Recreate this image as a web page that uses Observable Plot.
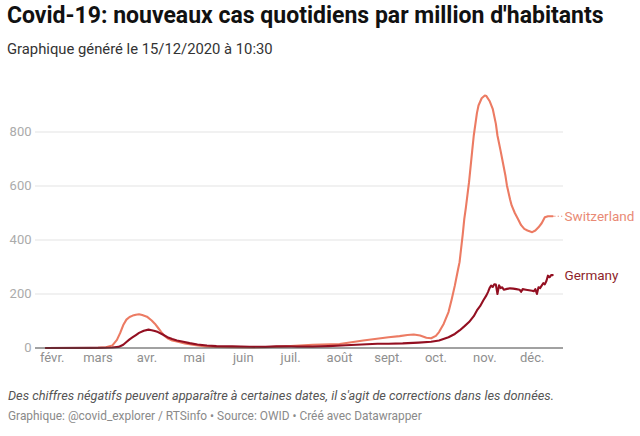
<!DOCTYPE html>
<html><head><meta charset="utf-8">
<script src="https://cdn.jsdelivr.net/npm/d3@7"></script>
<script src="https://cdn.jsdelivr.net/npm/@observablehq/plot@0.6"></script>
<style>
body{margin:0;background:#fff;font-family:Roboto,"Noto Sans",sans-serif;width:640px;height:436px;overflow:hidden;position:relative}
#title{position:absolute;left:7px;top:2px;font-size:23px;font-weight:700;color:#111;white-space:nowrap}
#sub{position:absolute;left:7px;top:40px;font-size:14.8px;color:#333;white-space:nowrap}
#chart{position:absolute;left:0;top:70px}
#note{position:absolute;left:8px;top:388px;font-size:12.75px;font-style:italic;color:#555;white-space:nowrap}
#src{position:absolute;left:8px;top:409px;font-size:11.9px;color:#8a8a8a;white-space:nowrap}
</style></head>
<body>
<div id="title">Covid-19: nouveaux cas quotidiens par million d'habitants</div>
<div id="sub">Graphique généré le 15/12/2020 à 10:30</div>
<div id="chart"></div>
<div id="note">Des chiffres négatifs peuvent apparaître à certaines dates, il s'agit de corrections dans les données.</div>
<div id="src">Graphique: @covid_explorer / RTSinfo • Source: OWID • Créé avec Datawrapper</div>
<script>
const swissDates = ["2020-01-28","2020-02-20","2020-03-01","2020-03-06","2020-03-10","2020-03-13","2020-03-15","2020-03-17","2020-03-19","2020-03-21","2020-03-23","2020-03-25","2020-03-27","2020-03-29","2020-04-01","2020-04-04","2020-04-06","2020-04-08","2020-04-10","2020-04-12","2020-04-14","2020-04-17","2020-04-20","2020-04-25","2020-05-01","2020-05-08","2020-05-15","2020-05-25","2020-06-05","2020-06-15","2020-06-25","2020-07-01","2020-07-15","2020-08-01","2020-08-16","2020-09-01","2020-09-08","2020-09-13","2020-09-17","2020-09-21","2020-09-25","2020-09-28","2020-10-01","2020-10-03","2020-10-06","2020-10-09","2020-10-11","2020-10-13","2020-10-15","2020-10-16","2020-10-18","2020-10-19","2020-10-20","2020-10-22","2020-10-24","2020-10-25","2020-10-27","2020-10-28","2020-10-30","2020-11-01","2020-11-02","2020-11-04","2020-11-06","2020-11-08","2020-11-09","2020-11-11","2020-11-12","2020-11-14","2020-11-15","2020-11-17","2020-11-18","2020-11-20","2020-11-22","2020-11-24","2020-11-26","2020-11-28","2020-12-01","2020-12-03","2020-12-05","2020-12-07","2020-12-09","2020-12-11","2020-12-14"];
const swissValues = [0,0,0.5,3,9,30,55,85,105,115,120,123,125,122,116,102,90,75,60,46,36,28,24,17,11,6,4,2.5,2,2.5,5,7,12,15,28,40,44,48,50,46,38,36,45,59,90,133,180,231,290,318,420,478,520,614,730,787,870,898,925,935,933,915,886,830,787,730,700,640,602,550,528,500,478,455,441,435,429,435,447,462,484,488,488];

const germanyDates = ["2020-01-28","2020-02-25","2020-03-05","2020-03-10","2020-03-14","2020-03-17","2020-03-19","2020-03-21","2020-03-23","2020-03-25","2020-03-27","2020-03-30","2020-04-02","2020-04-04","2020-04-06","2020-04-08","2020-04-11","2020-04-14","2020-04-17","2020-04-20","2020-04-24","2020-04-28","2020-05-03","2020-05-09","2020-05-15","2020-05-25","2020-06-05","2020-06-15","2020-06-22","2020-06-28","2020-07-05","2020-07-15","2020-07-25","2020-08-05","2020-08-15","2020-08-25","2020-09-01","2020-09-10","2020-09-20","2020-09-28","2020-10-03","2020-10-09","2020-10-13","2020-10-16","2020-10-19","2020-10-22","2020-10-25","2020-10-27","2020-10-29","2020-10-31","2020-11-02","2020-11-03","2020-11-04","2020-11-05","2020-11-06","2020-11-07","2020-11-08","2020-11-09","2020-11-10","2020-11-11","2020-11-12","2020-11-13","2020-11-15","2020-11-17","2020-11-19","2020-11-21","2020-11-23","2020-11-24","2020-11-25","2020-11-27","2020-11-29","2020-12-01","2020-12-02","2020-12-03","2020-12-04","2020-12-05","2020-12-06","2020-12-07","2020-12-08","2020-12-09","2020-12-10","2020-12-11","2020-12-12","2020-12-13","2020-12-14"];
const germanyValues = [0,0.3,1,2,4,12,22,32,40,48,56,64,68,66,63,59,50,40,33,28,23,18,13,9,7,6,4.5,4,6,6.5,5,5,7,10,13,16,16,17,20,23,28,40,52,65,80,96,118,139,155,176,195,207,222,231,226,236,235,200,232,222,225,216,219,221,220,218,216,208,218,216,214,212,210,218,200,225,222,231,240,236,248,268,262,270,270];

const yTicks = [0,200,400,600,800];
const monthStarts = ["2020-02-01","2020-03-01","2020-04-01","2020-05-01","2020-06-01","2020-07-01","2020-08-01","2020-09-01","2020-10-01","2020-11-01","2020-12-01"];
const monthLabels = ["févr.","mars","avr.","mai","juin","juil.","août","sept.","oct.","nov.","déc."];
const seriesNames = ["Switzerland","Germany"];
const seriesColors = ["#ec7b63","#930f21"];
const labelColors = ["#e98a75","#8e1f2c"];

const parse = s => new Date(s + "T00:00:00Z");
const swiss = swissDates.map((d,i)=>({date:parse(d), value:swissValues[i], country:seriesNames[0]}));
const germany = germanyDates.map((d,i)=>({date:parse(d), value:germanyValues[i], country:seriesNames[1]}));
const ticks = monthStarts.map(parse);
const labelOf = new Map(ticks.map((t,i)=>[+t, monthLabels[i]]));
const lastS = swiss[swiss.length-1], lastG = germany[germany.length-1];
const xMax = new Date(Date.UTC(2020,11,20,20));

const chart = Plot.plot({
  width:640, height:300,
  marginLeft:35, marginRight:77, marginTop:7.5, marginBottom:22.5,
  style:{fontFamily:"Roboto, sans-serif", fontSize:"13px", background:"transparent", overflow:"visible"},
  x:{type:"utc", domain:[new Date(Date.UTC(2020,0,21,10)), xMax], ticks:ticks, tickFormat:d=>labelOf.get(+d), tickSize:0, tickPadding:6, label:null},
  y:{domain:[0,1000], ticks:yTicks, tickSize:0, tickPadding:4, label:null},
  marks:[
    Plot.gridY(yTicks.filter(v=>v>0), {stroke:"#e3e3e3", strokeOpacity:1, strokeWidth:1}),
    Plot.axisY({ticks:yTicks, tickSize:0, tickPadding:4, fill:"#ababab", fontSize:13, label:null}),
    Plot.axisX({ticks:ticks, tickFormat:d=>labelOf.get(+d), tickSize:0, tickPadding:5, fill:"#8f8f8f", fontSize:13, label:null}),
    Plot.lineY(swiss, {x:"date", y:"value", stroke:seriesColors[0], strokeWidth:2.1, curve:"linear"}),
    Plot.lineY(germany, {x:"date", y:"value", stroke:seriesColors[1], strokeWidth:2.1, curve:"linear"}),
    Plot.ruleY([0], {stroke:"#444", strokeWidth:1}),
    Plot.link([lastS], {x1:d=>new Date(+d.date+86400000), x2:()=>new Date(+xMax-86400000*0.8), y1:"value", y2:"value", stroke:labelColors[0], strokeWidth:1, strokeDasharray:"1.2,2.2"}),
    Plot.text([lastS], {x:()=>xMax, y:"value", text:"country", textAnchor:"start", dx:1, fill:labelColors[0], fontSize:13.5}),
    Plot.text([lastG], {x:()=>xMax, y:"value", text:"country", textAnchor:"start", dx:1, dy:1, fill:labelColors[1], fontSize:13.5})
  ]
});
document.getElementById("chart").appendChild(chart);
</script>
</body></html>
